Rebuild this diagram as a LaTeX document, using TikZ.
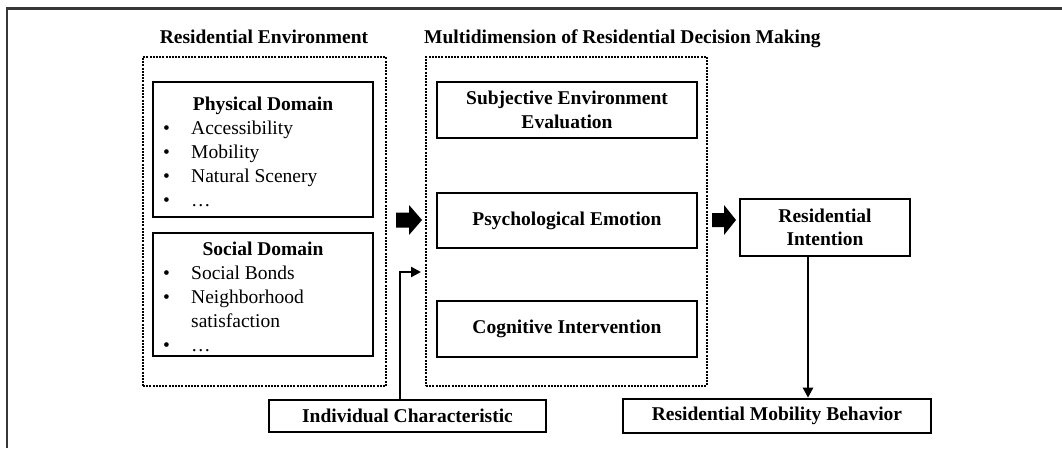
\documentclass[tikz,border=0pt]{standalone}
\usepackage{fontspec}
\setmainfont{Liberation Serif}
\usetikzlibrary{arrows.meta}
\begin{document}
\begin{tikzpicture}[x=1pt,y=-1pt,
  font=\fontsize{19.5}{23.5}\selectfont,
  solidbox/.style={draw, line width=2.6pt, fill=white, inner sep=0pt, align=center, font=\fontsize{19.5}{23.5}\selectfont\bfseries},
  dotbox/.style={draw, line width=2.4pt, dash pattern=on 2pt off 1.2pt, inner sep=0pt},
  arr/.style={line width=2.4pt, -{Triangle[length=10pt,width=10pt]}},
  blockarrow/.style={fill=black},
  titletext/.style={font=\fontsize{19.5}{23.5}\selectfont\bfseries, inner sep=0pt, anchor=base},
  itemtext/.style={anchor=base west, inner sep=0pt},
  frameline/.style={draw=black!78, line width=2.2pt},
]
\useasboundingbox (0,0) rectangle (1062,448);
% page frame
\draw[frameline] (7,448) -- (7,8.5) -- (1062,8.5);

% titles
\node[titletext] (t1) at (264,43.5) {Residential Environment};
\node[titletext, anchor=base west] (t2) at (424,43.5) {Multidimension of Residential Decision Making};

% dotted containers
\node[dotbox, minimum width=243, minimum height=329] (envbox) at (264.5,221.5) {};
\node[dotbox, minimum width=281, minimum height=329] (midbox) at (566.5,221.5) {};

% physical domain
\node[solidbox, minimum width=220, minimum height=135] (phys) at (263,149.5) {};
\node[titletext] (physt) at (263,110) {Physical Domain};
\node[itemtext] (pb1) at (163,134) {\textbullet};
\node[itemtext] (pb2) at (163,158) {\textbullet};
\node[itemtext] (pb3) at (163,182) {\textbullet};
\node[itemtext] (pb4) at (163,206) {\textbullet};
\node[itemtext] (pi1) at (191,134) {Accessibility};
\node[itemtext] (pi2) at (191,158) {Mobility};
\node[itemtext] (pi3) at (191,182) {Natural Scenery};
\node[itemtext] (pi4) at (191,206) {…};

% social domain
\node[solidbox, minimum width=220, minimum height=123] (soc) at (263,294.5) {};
\node[titletext] (soct) at (263,255) {Social Domain};
\node[itemtext] (sb1) at (163,279) {\textbullet};
\node[itemtext] (sb2) at (163,303) {\textbullet};
\node[itemtext] (sb4) at (163,351) {\textbullet};
\node[itemtext] (si1) at (191,279) {Social Bonds};
\node[itemtext] (si2) at (191,303) {Neighborhood};
\node[itemtext] (si3) at (191,327) {satisfaction};
\node[itemtext] (si4) at (191,351) {…};

% decision making boxes
\node[solidbox, minimum width=260, minimum height=56] (subj) at (567,110) {Subjective Environment\\Evaluation};
\node[solidbox, minimum width=260, minimum height=55] (psych) at (567,220.5) {Psychological Emotion};
\node[solidbox, minimum width=260, minimum height=56] (cogn) at (567,329) {Cognitive Intervention};

% right side
\node[solidbox, minimum width=170, minimum height=57] (intent) at (825,227.5) {Residential\\Intention};
\node[solidbox, minimum width=277, minimum height=32] (indiv) at (407.5,416) {Individual Characteristic};
\node[solidbox, minimum width=308, minimum height=34] (behav) at (777,416) {Residential Mobility Behavior};

% block arrows
\fill[blockarrow] (396,212.5) -- (409,212.5) -- (409,205) -- (422,220) -- (409,235) -- (409,227.5) -- (396,227.5) -- cycle;
\fill[blockarrow] (712,213) -- (724,213) -- (724,205) -- (736,220) -- (724,235) -- (724,227) -- (712,227) -- cycle;

% thin arrows
\coordinate (ctip) at (421,272);
\draw[arr] ([xshift=-7.5pt]indiv.north) |- (ctip);
\draw[arr] ([xshift=-17pt]intent.south) -- ([xshift=-17pt]intent.south |- behav.north);
\end{tikzpicture}
\end{document}
